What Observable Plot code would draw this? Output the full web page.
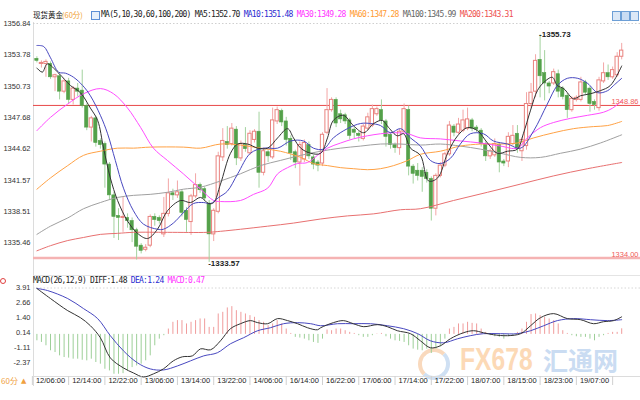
<!DOCTYPE html>
<html><head><meta charset="utf-8">
<script src="https://cdn.jsdelivr.net/npm/d3@7"></script>
<script src="https://cdn.jsdelivr.net/npm/@observablehq/plot@0.6"></script>
<style>
html,body{margin:0;padding:0;background:#fff;}
#wrap{position:relative;width:640px;height:400px;overflow:hidden;background:#fff;}
.abs{position:absolute;}
.mono{font-family:"DejaVu Sans Mono",monospace;font-size:8px;letter-spacing:-0.74px;white-space:pre;line-height:10px;}
.cjk{font-family:"Noto Sans CJK SC",sans-serif;font-size:7.5px;line-height:10px;white-space:pre;}
#main svg,#macd svg{display:block;}
</style></head>
<body><div id="wrap">
  <!-- watermark -->
  <div class="abs" style="left:418px;top:348px;width:24px;height:24px;border-radius:50%;border:4px solid;border-color:#f9d9bd #cfe0f3 #cfe0f3 #f9d9bd;"></div>
  <div class="abs" style="left:460px;top:348px;font:bold 29px 'Liberation Sans',Arial,sans-serif;line-height:22px;color:#fcd9b6;transform:scale(0.85,1.05);transform-origin:left top;">FX678</div>
  <div class="abs" style="left:543px;top:347px;font:bold 25px 'Noto Sans CJK SC',sans-serif;color:#cadcf2;line-height:24px;">汇通网</div>
  <!-- frame lines -->
  <div class="abs" style="left:33px;top:22px;width:1px;height:364px;background:#dcdcdc"></div>
  <div class="abs" style="left:33px;top:275px;width:607px;height:1px;background:#e4e4e4"></div>
  <div class="abs" style="left:33px;top:376px;width:607px;height:1px;background:#dcdcdc"></div>
  <div id="main" class="abs" style="left:0;top:0"></div>
  <div id="macd" class="abs" style="left:0;top:270px"></div>
  <!-- header texts -->
  <div class="abs cjk" style="left:33px;top:10px;color:#111">现货黄金</div>
  <div class="abs cjk" style="left:62px;top:10px;color:#f0a030">(60分)</div>
  <div class="abs" style="left:91px;top:11px;width:7px;height:7px;border:1px solid #5b8fd6;background:#e6f0fb;"></div>
  <div class="abs mono" id="maLegend" style="left:101px;top:10px;"></div>
  <div class="abs mono" id="macdLegend" style="left:33px;top:276px;"></div>
  <div class="abs" style="left:612px;top:11px;width:7px;height:8px;border:1px solid #6d9fd6;background:#dbe8f7;"></div>
  <div class="abs" style="left:621px;top:11px;width:7px;height:8px;border:1px solid #6d9fd6;background:#c9dcf3;"></div>
  <div class="abs" style="left:630px;top:11px;width:7px;height:8px;border:1px solid #6d9fd6;background:#dbe8f7;"></div>
  <div class="abs" style="left:0px;top:278px;width:4px;height:4px;border-radius:50%;border:1px solid #e04040;"></div>
  <div class="abs cjk" style="left:1px;top:376px;color:#f0a040;font-size:8px;">60分</div>
  <div class="abs" style="left:21px;top:376px;color:#f0a040;font:7px 'DejaVu Sans',sans-serif;line-height:10px;">▲</div>
</div>
<script>
// ---------------- data ----------------
const yTicks = [1356.84, 1353.78, 1350.73, 1347.68, 1344.62, 1341.57, 1338.51, 1335.46];
const macdTicks = [3.91, 2.66, 1.40, 0.14, -1.11, -2.37];
const timeLabels = ["12/06:00","12/14:00","12/22:00","13/06:00","13/14:00","13/22:00","14/06:00","16/14:00","16/22:00","17/06:00","17/14:00","17/22:00","18/07:00","18/15:00","18/23:00","19/07:00"];
const timeIdx = [3,11,19,27,35,43,51,59,67,75,83,91,99,107,115,123];
const sepIdx = [-1,7,15,23,31,39,47,55,63,71,79,87,95,103,111,119,127];
const refHi = 1348.86;
const refLo = 1334.00;

const open = [1353.4,1352.9,1352.9,1352.9,1351.6,1351.7,1350.2,1351.2,1349.4,1350.5,
1350.3,1348.8,1346.7,1347.6,1345.4,1345.1,1343.1,1340.1,1338.1,1337.9,
1337.9,1337.6,1336.7,1335.2,1334.8,1335.2,1338.0,1337.9,1336.3,1338.3,
1340.3,1340.1,1340.4,1338.6,1337.5,1340.0,1341.1,1340.7,1339.3,1336.3,
1338.5,1343.8,1345.3,1345.1,1346.5,1343.7,1345.0,1344.2,1345.5,1346.3,
1342.3,1344.3,1343.8,1347.3,1348.3,1347.3,1345.6,1344.3,1343.3,1343.6,
1345.0,1343.8,1343.3,1343.2,1346.2,1348.4,1349.4,1348.0,1347.9,1347.4,
1346.5,1346.1,1345.6,1346.6,1346.9,1348.0,1348.4,1347.3,1346.0,1345.0,
1344.7,1346.3,1348.4,1342.9,1342.5,1342.5,1342.3,1341.7,1338.8,1342.0,
1343.0,1344.1,1346.8,1346.2,1346.4,1346.6,1347.4,1346.7,1346.4,1345.1,
1343.9,1344.0,1345.0,1343.4,1343.4,1345.1,1346.1,1344.4,1344.9,1349.0,
1350.2,1353.3,1352.0,1351.0,1351.0,1351.9,1350.5,1349.8,1348.4,1349.4,
1349.4,1351.1,1350.5,1349.2,1348.6,1351.2,1352.0,1351.6,1351.8,1353.6];
const high = [1353.6,1353.2,1353.3,1353.1,1351.9,1351.9,1351.4,1351.5,1350.7,1351.0,
1352.3,1349.0,1347.8,1347.8,1345.6,1345.3,1343.3,1340.4,1338.8,1339.9,
1338.3,1337.9,1336.9,1335.4,1335.3,1338.2,1338.3,1338.1,1339.9,1341.7,
1340.7,1341.5,1340.6,1338.9,1340.2,1342.2,1341.3,1340.9,1339.6,1338.8,
1344.3,1346.6,1346.8,1347.1,1346.8,1345.4,1346.7,1346.4,1346.5,1348.2,
1344.7,1344.5,1348.6,1348.7,1348.5,1347.7,1345.9,1344.5,1345.3,1345.5,
1345.3,1344.0,1343.5,1346.2,1350.5,1349.6,1349.6,1348.4,1348.1,1347.6,
1346.7,1346.3,1347.0,1348.1,1348.9,1348.7,1349.4,1347.5,1346.2,1345.2,
1346.5,1349.0,1348.8,1343.1,1343.2,1342.8,1342.6,1341.9,1342.2,1343.3,
1344.3,1347.3,1347.0,1347.6,1348.4,1348.6,1347.6,1346.9,1346.6,1345.3,
1344.6,1345.6,1345.2,1343.6,1346.2,1346.9,1346.9,1345.7,1350.1,1351.0,
1353.8,1355.73,1354.2,1351.2,1352.4,1352.3,1350.7,1350.0,1349.7,1349.8,
1351.6,1351.3,1350.7,1349.4,1351.6,1353.0,1352.8,1352.6,1354.0,1354.9];
const low = [1353.0,1352.5,1351.6,1351.4,1350.2,1349.4,1350.0,1349.0,1348.9,1349.7,
1348.6,1346.4,1345.3,1344.8,1344.6,1340.8,1339.6,1335.9,1335.7,1336.5,
1336.9,1335.5,1333.8,1334.4,1334.6,1335.0,1337.1,1337.3,1336.0,1338.0,
1339.6,1339.8,1338.0,1336.5,1336.2,1339.8,1340.3,1339.5,1333.57,1335.6,
1338.3,1343.4,1344.6,1344.9,1343.0,1343.4,1344.3,1344.0,1345.2,1340.8,
1342.0,1343.3,1343.6,1347.0,1346.8,1344.9,1343.5,1342.7,1341.0,1343.3,
1343.6,1342.6,1342.4,1342.9,1346.0,1348.2,1346.7,1347.1,1347.0,1345.5,
1345.6,1345.3,1345.4,1346.4,1346.7,1347.8,1347.0,1344.8,1344.6,1344.2,
1344.0,1346.1,1342.0,1341.2,1341.5,1340.4,1341.3,1337.6,1338.1,1341.8,
1342.8,1343.9,1345.8,1346.0,1346.2,1346.4,1346.3,1346.2,1344.8,1343.4,
1343.6,1343.8,1342.3,1342.9,1342.8,1344.9,1344.2,1343.4,1344.5,1348.6,
1349.6,1349.6,1349.3,1350.0,1350.8,1349.6,1349.4,1347.6,1348.2,1349.2,
1349.2,1349.8,1348.2,1348.4,1348.3,1351.0,1351.3,1351.4,1351.6,1353.3];
const close = [1353.2,1353.0,1353.1,1351.6,1351.8,1350.2,1351.2,1349.4,1350.5,1350.2,
1348.8,1346.7,1347.6,1345.2,1345.0,1343.1,1340.1,1338.0,1337.9,1338.0,
1337.6,1336.7,1335.1,1334.7,1335.0,1338.0,1337.7,1337.6,1338.3,1340.3,
1340.1,1340.4,1338.4,1337.7,1340.0,1341.1,1340.6,1339.8,1336.3,1338.6,
1343.9,1345.4,1345.0,1346.6,1343.7,1345.1,1344.6,1346.1,1346.3,1342.3,
1344.4,1343.9,1347.4,1348.4,1347.2,1345.5,1344.2,1343.3,1345.0,1345.2,
1343.9,1343.1,1343.0,1346.0,1348.4,1349.4,1347.1,1347.5,1347.3,1345.9,
1346.2,1345.9,1346.8,1347.7,1348.5,1348.5,1347.4,1345.8,1345.0,1344.7,
1346.3,1348.5,1342.9,1342.2,1342.0,1341.9,1341.7,1338.8,1342.0,1343.0,
1344.1,1346.9,1346.2,1347.0,1347.4,1347.5,1346.6,1346.5,1345.1,1343.9,
1344.4,1345.1,1343.3,1343.2,1345.8,1345.9,1344.6,1345.5,1349.0,1350.1,
1353.2,1351.7,1351.0,1350.7,1352.1,1350.2,1349.7,1348.4,1349.5,1349.6,
1351.1,1350.1,1349.0,1348.9,1351.3,1352.0,1351.6,1352.3,1353.6,1354.2];

// moving average lines: [bar index, price]
const ma5Pts = [[0,1352.5],[1.2,1352.1],[2.3,1352.9],[4.8,1352.0],[7.4,1350.8],[9.6,1350.1],[11.8,1348.6],[13.4,1347.4],[14.7,1344.7],[16.2,1341.8],[17.8,1339.6],[20,1337.6],[22.2,1336.4],[24.4,1335.9],[26.6,1336.8],[28.8,1338.6],[31.7,1339.6],[33.9,1339.4],[36.1,1339.9],[37.9,1339.3],[39,1339.4],[40.5,1341.2],[42.7,1344.2],[44.3,1345.1],[46.5,1345.1],[48.7,1344.7],[50.9,1344.7],[53.1,1345.7],[55.3,1346.6],[56.6,1345.7],[58.2,1344.7],[60.4,1344.2],[62.6,1344.2],[64.1,1345.7],[65.4,1347.4],[67.6,1347.9],[69.8,1346.9],[72.1,1346.2],[74.3,1347.1],[76.2,1347.4],[77.6,1346.7],[79.5,1345.9],[80.9,1346.1],[82.4,1344.7],[84.6,1344.0],[86.4,1341.5],[88.4,1341.8],[90.6,1344.2],[92.8,1345.9],[95,1346.7],[97.2,1346.4],[99.4,1345.2],[101.6,1344.2],[103.8,1344.4],[106,1344.6],[107.3,1346.1],[108.9,1348.4],[110.4,1350.3],[111.8,1351.1],[113.7,1351.6],[114.8,1350.8],[116.2,1350.5],[118.4,1349.5],[119.9,1349.8],[122.1,1350.0],[124.3,1350.3],[126.5,1350.8],[129,1352.7]];
const ma10Pts = [[0,1354.7],[1.5,1354.6],[3,1353.5],[4.8,1352.1],[6.3,1352.0],[8.1,1351.6],[10.1,1350.8],[11.8,1349.8],[14,1347.9],[15.6,1346.1],[17.3,1343.5],[19.1,1340.8],[21.3,1338.6],[23.5,1337.3],[26.6,1336.8],[27.9,1336.8],[30.1,1337.4],[32.3,1338.4],[34.5,1339.3],[36.8,1339.4],[38.3,1339.3],[40.1,1339.9],[42,1340.5],[44.3,1342.2],[47.1,1344.2],[50,1344.7],[53.1,1344.7],[56,1345.4],[58.8,1345.4],[61,1344.7],[63.2,1344.6],[65.4,1345.7],[68.5,1346.6],[71.4,1347.1],[73.6,1347.1],[75.8,1346.9],[78,1346.2],[80.2,1346.6],[82.4,1345.7],[84.6,1344.9],[86.8,1343.5],[89,1343.2],[91.2,1343.7],[93.4,1345.1],[95.6,1346.1],[98.5,1346.1],[100.7,1345.4],[103.8,1345.1],[106.7,1344.7],[109.6,1346.4],[112.6,1349.0],[114.8,1350.8],[117,1351.5],[119.3,1351.5],[121.5,1351.0],[123.7,1350.1],[125.9,1350.3],[127.2,1350.8],[129,1351.5]];
const ma30Pts = [[0,1346.4],[3,1347.7],[6.8,1349.0],[10.3,1350.0],[14,1350.5],[16.9,1350.0],[20,1348.6],[22.9,1346.7],[25.7,1344.7],[28.8,1343.5],[32.3,1342.2],[36.1,1340.7],[39,1339.6],[40.5,1339.5],[44.9,1339.6],[47.8,1340.2],[50.9,1340.8],[53.1,1342.2],[55.3,1342.8],[57.5,1343.2],[59.7,1343.3],[61.9,1344.0],[64.1,1344.7],[67,1345.2],[69.8,1345.6],[72.9,1345.9],[75.8,1346.1],[78.7,1346.2],[81.8,1346.1],[84.6,1345.7],[89,1345.6],[93.4,1345.4],[97.9,1345.2],[102.3,1344.9],[106,1344.7],[108.2,1345.7],[111.1,1346.7],[114,1347.2],[117.7,1347.6],[121.5,1347.9],[125,1348.2],[127,1348.6],[129,1349.3]];
const ma60Pts = [[0,1340.7],[3,1341.8],[6.8,1343.0],[10.3,1344.0],[14,1344.4],[17.8,1344.7],[21.3,1344.7],[25,1344.8],[32.3,1344.8],[36.1,1344.7],[40.5,1345.1],[44.9,1345.0],[49.3,1344.7],[53.7,1344.4],[58.2,1343.8],[61,1343.2],[64.1,1343.0],[67,1342.8],[69.8,1342.7],[72.9,1342.6],[75.8,1342.7],[78.7,1343.0],[81.8,1343.5],[84.6,1344.1],[89,1344.4],[93.4,1344.9],[97.9,1345.1],[102.3,1345.1],[106,1345.2],[109.6,1345.7],[114,1346.2],[118.4,1346.6],[122.8,1346.8],[125.9,1346.9],[129,1347.3]];
const ma100Pts = [[0,1336.3],[3,1337.1],[6.8,1337.9],[10.3,1338.8],[14,1339.4],[17.8,1339.9],[21.3,1340.1],[25,1340.2],[28.8,1340.4],[32.3,1340.7],[36.1,1340.9],[40.5,1341.5],[44.9,1342.2],[49.3,1343.0],[53.7,1343.5],[58.2,1344.0],[62.6,1344.4],[67,1344.7],[71.4,1344.9],[75.8,1345.1],[80.2,1345.1],[84.6,1345.0],[89,1345.1],[93.4,1344.9],[97.9,1344.6],[102.3,1344.2],[106.7,1343.8],[111.1,1343.8],[115.5,1344.2],[119.9,1344.6],[124.3,1345.2],[129,1346.0]];
const ma200Pts = [[0,1334.7],[3,1335.2],[6.8,1335.7],[10.3,1336.0],[14,1336.3],[17.8,1336.4],[21.3,1336.5],[28.8,1336.5],[37.6,1336.5],[40.5,1336.6],[44.9,1336.8],[50.9,1337.1],[56.6,1337.4],[62.6,1337.8],[68.5,1338.1],[74.3,1338.3],[80.2,1338.7],[84.6,1338.8],[91.9,1339.6],[99.4,1340.4],[106.7,1341.2],[114,1342.0],[121.5,1342.7],[129,1343.3]];
const maLegendVals = [1352.70, 1351.48, 1349.28, 1347.28, 1345.99, 1343.31];

// MACD
const diffPts = [[0,3.87],[3,3.02],[6.8,2.00],[9.6,1.41],[11.8,0.73],[14,-0.28],[16.2,-1.98],[19.1,-2.83],[21.3,-3.25],[23.5,-3.59],[25.7,-3.33],[27.9,-2.91],[30.1,-2.23],[32.1,-1.89],[34.3,-1.81],[36.1,-1.22],[38.3,-1.30],[40.5,-0.54],[42.7,0.48],[44.9,0.90],[47.1,1.16],[48.7,0.99],[50.9,0.90],[53.1,1.33],[55.3,1.16],[57.5,0.90],[59.7,0.56],[61.9,0.39],[62.6,0.56],[65.4,0.99],[67.6,1.16],[69.8,0.90],[72.1,0.65],[75.1,0.82],[77.3,0.65],[79.5,0.31],[82.4,0.06],[84.6,-0.54],[86.8,-1.13],[89,-0.96],[91.2,-0.37],[94.1,0.14],[96.3,0.31],[98.5,0.14],[100.7,-0.03],[103.8,-0.11],[106.7,0.06],[108.9,0.73],[111.1,1.41],[114,1.75],[117,1.33],[119.9,1.24],[122.8,0.90],[125,1.07],[127.2,1.16],[129,1.48]];
const deaPts = [[0,3.87],[2.3,3.70],[6.8,3.02],[10.3,2.17],[13.4,1.33],[16.2,-0.11],[19.1,-1.39],[22.2,-2.40],[25,-2.91],[27.9,-3.00],[31,-2.66],[33.9,-2.23],[36.8,-1.81],[39.8,-1.55],[42.7,-0.79],[45.6,-0.28],[48.7,0.31],[51.5,0.56],[54.4,0.90],[57.5,0.99],[60.4,0.90],[62.6,0.73],[66.3,0.90],[69.8,0.90],[73.6,0.90],[77.3,0.73],[80.9,0.48],[84,0.06],[86.8,-0.54],[89.7,-0.71],[92.8,-0.37],[95.6,-0.11],[98.5,0.06],[102.3,0.06],[106,0.06],[108.9,0.31],[111.8,0.73],[114.8,1.16],[118.4,1.33],[122.1,1.24],[125.9,1.16],[129,1.24]];
const histVals = [
-0.54,-0.68,-0.96,-1.38,-1.53,-1.81,-1.95,-2.00,-2.09,-2.09,
-2.18,-2.23,-2.09,-2.37,-2.51,-2.94,-3.08,-3.36,-3.36,-3.31,
-3.08,-2.80,-2.66,-2.51,-2.23,-1.81,-0.96,-0.40,-0.11,0.45,
1.02,1.16,1.16,0.88,1.02,1.16,1.30,1.30,0.59,0.59,
1.72,1.86,2.23,2.34,2.00,1.86,1.72,1.58,1.44,1.16,
1.02,0.73,0.88,1.16,0.88,0.45,0.08,-0.25,-0.31,-0.40,
-0.54,-0.68,-0.76,-0.40,0.37,0.31,0.45,0.45,0.31,0.17,
0.08,-0.11,-0.25,-0.25,-0.11,0.03,0.08,-0.20,-0.40,-0.54,
-0.59,-0.68,-0.96,-1.24,-1.33,-1.38,-1.24,-1.61,-1.24,-1.05,
-0.40,0.45,0.59,0.88,0.88,1.02,0.93,0.88,0.45,0.17,
-0.11,-0.20,-0.25,-0.40,-0.20,-0.11,0.17,0.45,1.02,1.67,
1.72,1.58,1.44,1.30,1.16,0.88,0.31,0.08,-0.11,-0.20,
-0.25,-0.25,-0.40,-0.54,-0.25,-0.11,0.08,0.17,0.17,0.47];
const macdLegendVals = [1.48, 1.24, 0.47];

// ---------------- build ----------------
const candles = close.map((c, i) => ({i, o: open[i], h: high[i], l: low[i], c}));
const upC = candles.filter(d => d.c >= d.o);
const dnC = candles.filter(d => d.c < d.o);
const hiC = d3.greatest(candles, d => d.h);
const loC = d3.least(candles, d => d.l);
const pts = arr => arr.map(([i, v]) => ({i, v}));
const hw = 0.36;
const font = "'Liberation Sans', Arial, sans-serif";
const xDom = {domain: [0, 129], range: [36.4, 621.2], label: null};

const maLines = [
  [ma200Pts, "#e87070"], [ma100Pts, "#a0a0a0"], [ma60Pts, "#ffa245"],
  [ma30Pts, "#ff4cff"], [ma10Pts, "#4848c0"], [ma5Pts, "#333333"]
];

const main = Plot.plot({
  width: 640, height: 272,
  marginLeft: 33, marginRight: 0, marginTop: 22, marginBottom: 10,
  x: {...xDom, axis: null},
  y: {domain: [1334, 1356.84], range: [257.5, 23], label: null},
  style: {background: "transparent", overflow: "visible", fontFamily: font},
  marks: [
    Plot.ruleY([yTicks[0]], {stroke: "#cfcfcf", strokeDasharray: "1.5,2"}),
    Plot.ruleY([refLo], {stroke: "#f5b3b3", strokeWidth: 2.5}),
    Plot.ruleY([refHi], {stroke: "#e84848", strokeWidth: 1}),
    Plot.ruleX(dnC, {x: "i", y1: "l", y2: "h", stroke: "#a3d29e"}),
    Plot.ruleX(upC, {x: "i", y1: "l", y2: "h", stroke: "#f3a6a6"}),
    Plot.rect(dnC, {x1: d => d.i - hw, x2: d => d.i + hw, y1: "o", y2: "c", fill: "#54a14a", stroke: "#54a14a", strokeWidth: 0.6}),
    Plot.rect(upC, {x1: d => d.i - hw, x2: d => d.i + hw, y1: "o", y2: "c", fill: "#ffffff", stroke: "#e9827e", strokeWidth: 1}),
    ...maLines.map(([p, col]) => Plot.line(pts(p), {x: "i", y: "v", stroke: col, strokeWidth: 1, curve: "catmull-rom"})),
    Plot.axisY(yTicks, {anchor: "left", label: null, tickSize: 0, tickPadding: 3, tickFormat: d => d.toFixed(2), fontSize: 7.5, fill: "#333"}),
    Plot.text([refHi], {y: d => d, frameAnchor: "right", textAnchor: "end", dx: -2, dy: -4, text: d => d.toFixed(2), fill: "#f05a5a", fontSize: 7.5}),
    Plot.text([refLo], {y: d => d, frameAnchor: "right", textAnchor: "end", dx: -2, dy: -3, text: d => d.toFixed(2), fill: "#f05a5a", fontSize: 7.5}),
    Plot.text([hiC], {x: "i", y: "h", text: d => "-" + d.h.toFixed(2), textAnchor: "start", dx: -1, fontSize: 8, fontWeight: "bold", fill: "#222"}),
    Plot.text([loC], {x: "i", y: "l", text: d => "-" + d.l.toFixed(2), textAnchor: "start", dx: -1, dy: 1, fontSize: 8, fontWeight: "bold", fill: "#222"})
  ]
});
document.getElementById("main").appendChild(main);

const hist = histVals.map((v, i) => ({i, v}));
const macd = Plot.plot({
  width: 640, height: 130,
  marginLeft: 33, marginRight: 0, marginTop: 10, marginBottom: 24,
  x: xDom,
  y: {domain: [-2.37, 3.91], range: [92, 17.5], label: null},
  style: {background: "transparent", overflow: "visible", fontFamily: font},
  marks: [
    Plot.ruleY([macdTicks[0]], {stroke: "#d6d6d6", strokeDasharray: "1.5,2"}),
    Plot.ruleX(hist.filter(d => d.v >= 0), {x: "i", y1: 0, y2: "v", stroke: "#f09c9c", strokeWidth: 1}),
    Plot.ruleX(hist.filter(d => d.v < 0), {x: "i", y1: 0, y2: "v", stroke: "#9dcf98", strokeWidth: 1}),
    Plot.line(pts(deaPts), {x: "i", y: "v", stroke: "#4848c0", strokeWidth: 1, curve: "catmull-rom"}),
    Plot.line(pts(diffPts), {x: "i", y: "v", stroke: "#333", strokeWidth: 1, curve: "catmull-rom"}),
    Plot.axisY(macdTicks, {anchor: "left", label: null, tickSize: 0, tickPadding: 3, tickFormat: d => d.toFixed(2), fontSize: 7.5, fill: "#333"}),
    Plot.axisX(sepIdx, {anchor: "bottom", label: null, tickSize: 9, tickFormat: () => "", stroke: "#d0d0d0"}),
    Plot.text(timeLabels, {x: (d, k) => timeIdx[k], frameAnchor: "bottom", dy: 6, text: d => d, fontSize: 7.5, fill: "#222"})
  ]
});
document.getElementById("macd").appendChild(macd);

// legends
const maNames = ["MA5", "MA10", "MA30", "MA60", "MA100", "MA200"];
const maCols = ["#222", "#2b2bd0", "#ff33ff", "#ff9a30", "#666", "#ee5050"];
const leg = document.getElementById("maLegend");
let html = '<span style="color:#222">MA(5,10,30,60,100,200) </span>';
maNames.forEach((n, k) => { html += `<span style="color:${maCols[k]}">${n}:${maLegendVals[k].toFixed(2)} </span>`; });
leg.innerHTML = html;
document.getElementById("macdLegend").innerHTML =
  `<span style="color:#222">MACD(26,12,9) DIFF:${macdLegendVals[0].toFixed(2)} </span>` +
  `<span style="color:#2b2bd0">DEA:${macdLegendVals[1].toFixed(2)} </span>` +
  `<span style="color:#ff33ff">MACD:${macdLegendVals[2].toFixed(2)}</span>`;
</script>
</body></html>
